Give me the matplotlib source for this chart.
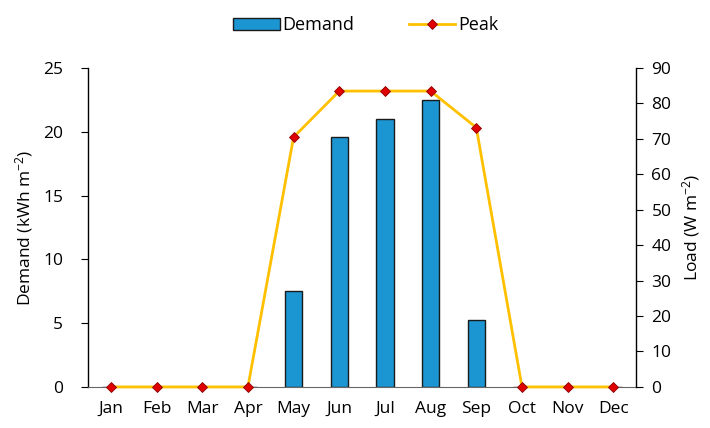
import matplotlib
matplotlib.use("Agg")
import matplotlib.pyplot as plt
from matplotlib.ticker import MultipleLocator

plt.rcParams['font.family'] = ['Open Sans', 'DejaVu Sans']
plt.rcParams['mathtext.fontset'] = 'custom'
plt.rcParams['mathtext.rm'] = 'Open Sans'
plt.rcParams['mathtext.it'] = 'Open Sans'

months = ['Jan', 'Feb', 'Mar', 'Apr', 'May', 'Jun', 'Jul', 'Aug', 'Sep', 'Oct', 'Nov', 'Dec']
demand = [0, 0, 0, 0, 7.5, 19.6, 21.0, 22.5, 5.25, 0, 0, 0]
peak = [0, 0, 0, 0, 70.5, 83.5, 83.5, 83.5, 73.2, 0, 0, 0]

FS = 12.5
fig = plt.figure(figsize=(7.10, 4.28), dpi=100)
ax = fig.add_axes([0.124, 0.096, 0.772, 0.745])
x = list(range(len(months)))
bars = ax.bar(x, demand, width=0.38, color='#1B96D3', edgecolor='#1a1a1a', linewidth=1.0, label='Demand', zorder=2)
ax.set_xlim(-0.5, 11.5)
ax.set_ylim(0, 25)
ax.yaxis.set_major_locator(MultipleLocator(5))
ax.set_xticks(x)
ax.set_xticklabels(months)
ax.tick_params(axis='x', length=0, pad=10, labelsize=FS)
ax.tick_params(axis='y', direction='out', length=5, labelsize=FS, pad=13)
ax.set_ylabel('Demand (kWh m$^{-2}$)', fontsize=FS, labelpad=6)
for s in ['top', 'right']:
    ax.spines[s].set_visible(False)
ax.spines['left'].set_linewidth(1.0)
ax.spines['bottom'].set_color('#666666')

ax2 = ax.twinx()
line, = ax2.plot(x, peak, color='#FFC000', linewidth=2.0, marker='D', markersize=5.5,
                 markerfacecolor='#E00000', markeredgecolor='#8B0000', markeredgewidth=0.6,
                 label='Peak', zorder=3, clip_on=False)
ax2.set_ylim(0, 90)
ax2.yaxis.set_major_locator(MultipleLocator(10))
ax2.tick_params(axis='y', direction='out', length=5, labelsize=FS, pad=6)
ax2.set_ylabel('Load (W m$^{-2}$)', fontsize=FS, labelpad=6)
for s in ['top', 'left', 'bottom']:
    ax2.spines[s].set_visible(False)
ax2.spines['right'].set_linewidth(1.0)

fig.legend([bars, line], ['Demand', 'Peak'], loc='upper center', bbox_to_anchor=(0.515, 1.0),
           ncol=2, frameon=False, fontsize=13, handlelength=2.6, handletextpad=0.15,
           columnspacing=3.0)

fig.savefig('out.png', dpi=100)
